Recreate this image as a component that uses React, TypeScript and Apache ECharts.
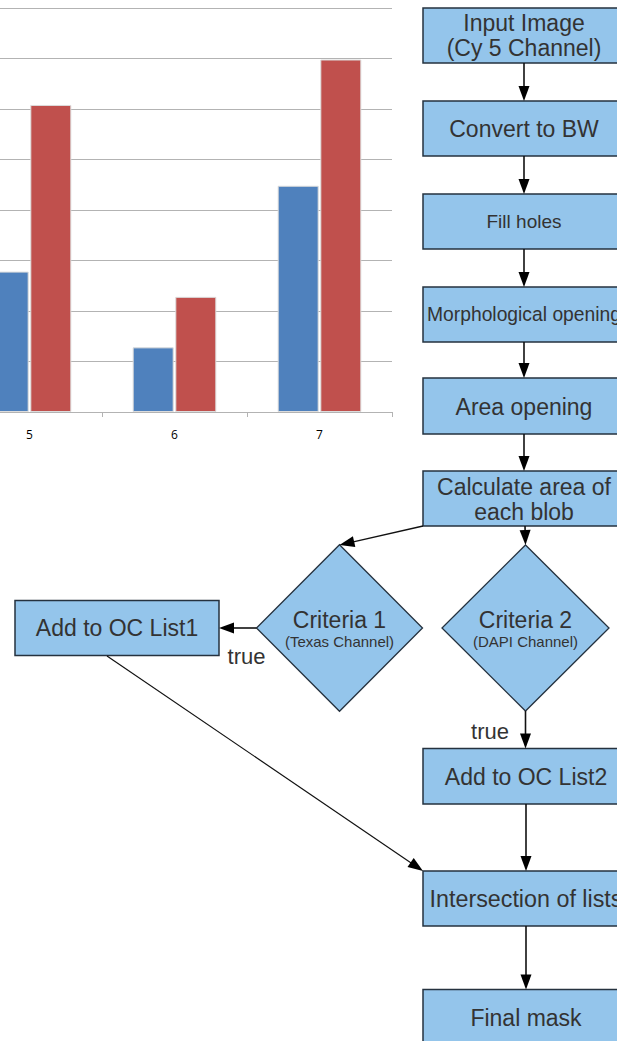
import React, { useEffect, useRef } from "react";
import * as echarts from "echarts";

// ---- Bar chart data ----
const categories = ["5", "6", "7"];
const seriesBlue = [2.78, 1.28, 4.48];
const seriesRed = [6.08, 2.28, 6.98];
const yMax = 8;
const yInterval = 1;

// The chart canvas starts 43px left of the page so that the partly hidden first category is cut like the reference.
const SHIFT = 43;

// ---- Flowchart content ----
const FONT = "Liberation Sans, Arial, sans-serif";
const TEXT_COLOR = "#333333";
const BOX_FILL = "#94c5eb";
const BOX_STROKE = "#25323f";

type Box = { x: number; y: number; w: number; h: number; lines: { t: string; y: number; size: number }[]; cx?: number };

const boxes: Box[] = [
  { x: 423, y: 8, w: 200, h: 55, lines: [{ t: "Input Image", y: 23, size: 23 }, { t: "(Cy 5 Channel)", y: 48, size: 23 }] },
  { x: 423, y: 101, w: 200, h: 55, lines: [{ t: "Convert to BW", y: 128.5, size: 23 }] },
  { x: 423, y: 194, w: 200, h: 55, lines: [{ t: "Fill holes", y: 221, size: 19 }] },
  { x: 423, y: 287, w: 200, h: 55, lines: [{ t: "Morphological opening", y: 314, size: 19.3 }] },
  { x: 423, y: 378, w: 200, h: 56, lines: [{ t: "Area opening", y: 406.5, size: 23 }] },
  { x: 423, y: 471, w: 200, h: 55, lines: [{ t: "Calculate area of", y: 486.5, size: 23 }, { t: "each blob", y: 512, size: 23 }] },
  { x: 423, y: 748.5, w: 200, h: 55.5, cx: 526, lines: [{ t: "Add to OC List2", y: 777, size: 23 }] },
  { x: 423, y: 871, w: 200, h: 55, cx: 526, lines: [{ t: "Intersection of lists", y: 899, size: 23.3 }] },
  { x: 423, y: 989.5, w: 200, h: 55, cx: 526, lines: [{ t: "Final mask", y: 1017.5, size: 23 }] },
  { x: 15, y: 600.5, w: 204, h: 55, cx: 117, lines: [{ t: "Add to OC List1", y: 628, size: 23 }] },
];

type Diamond = { cx: number; cy: number; hw: number; hh: number; title: string; sub: string };
const diamonds: Diamond[] = [
  { cx: 339.5, cy: 628, hw: 83, hh: 83.3, title: "Criteria 1", sub: "(Texas Channel)" },
  { cx: 525.5, cy: 628, hw: 83.5, hh: 83, title: "Criteria 2", sub: "(DAPI Channel)" },
];

const arrows: [number, number, number, number, number][] = [
  [524, 63, 524, 101, 1.6],
  [524, 156, 524, 194, 1.6],
  [524, 249, 524, 287, 1.6],
  [524, 342, 524, 378, 1.6],
  [524, 434, 524, 471, 1.6],
  [525, 526, 525.5, 545, 1.6],
  [423, 526, 339.5, 545, 1.3],
  [256.5, 628, 219, 628, 1.6],
  [525.5, 711, 525.5, 748.5, 1.6],
  [526, 804, 526, 871, 1.6],
  [526, 926, 526, 989.5, 1.6],
  [107, 656, 423, 871, 1.2],
];

const trueLabels = [
  { t: "true", x: 246.5, y: 656 },
  { t: "true", x: 490, y: 731 },
];

function textEl(t: string, x: number, y: number, size: number) {
  return {
    type: "text",
    x,
    y,
    z: 20,
    style: {
      text: t,
      font: `${size}px ${FONT}`,
      fill: TEXT_COLOR,
      align: "center",
      verticalAlign: "middle",
      textAlign: "center",
      textVerticalAlign: "middle",
    },
  };
}

function buildGraphics() {
  const els: any[] = [];
  boxes.forEach((b) => {
    els.push({
      type: "rect",
      z: 10,
      shape: { x: b.x, y: b.y, width: b.w, height: b.h },
      style: { fill: BOX_FILL, stroke: BOX_STROKE, lineWidth: 1.5 },
    });
    const cx = b.cx ?? b.x + b.w / 2 + 1;
    b.lines.forEach((l) => els.push(textEl(l.t, cx, l.y, l.size)));
  });
  diamonds.forEach((d) => {
    els.push({
      type: "polygon",
      z: 10,
      shape: {
        points: [
          [d.cx, d.cy - d.hh],
          [d.cx + d.hw, d.cy],
          [d.cx, d.cy + d.hh],
          [d.cx - d.hw, d.cy],
        ],
      },
      style: { fill: BOX_FILL, stroke: BOX_STROKE, lineWidth: 1.3 },
    });
    els.push(textEl(d.title, d.cx, d.cy - 8, 23));
    els.push(textEl(d.sub, d.cx, d.cy + 13.5, 15));
  });
  arrows.forEach(([x1, y1, x2, y2, lw]) => {
    const dx = x2 - x1;
    const dy = y2 - y1;
    const len = Math.sqrt(dx * dx + dy * dy);
    const ux = dx / len;
    const uy = dy / len;
    const L = 15;
    const W = 5.5;
    const bx = x2 - ux * L;
    const by = y2 - uy * L;
    els.push({
      type: "line",
      z: 15,
      shape: { x1, y1, x2: bx + ux * 2, y2: by + uy * 2 },
      style: { stroke: "#111111", lineWidth: lw },
    });
    els.push({
      type: "polygon",
      z: 15,
      shape: {
        points: [
          [x2, y2],
          [bx - uy * W, by + ux * W],
          [bx + uy * W, by - ux * W],
        ],
      },
      style: { fill: "#000000" },
    });
  });
  trueLabels.forEach((l) => els.push(textEl(l.t, l.x, l.y, 22)));
  return [{ type: "group", x: SHIFT, y: 0, children: els }];
}

export default function App() {
  const ref = useRef<HTMLDivElement>(null);
  useEffect(() => {
    if (!ref.current) return;
    const chart = echarts.init(ref.current, null, { renderer: "svg" });
    chart.setOption({
      animation: false,
      backgroundColor: "#ffffff",
      grid: { left: 0, right: 225, top: 8, bottom: 629, containLabel: false },
      xAxis: {
        type: "category",
        data: categories,
        axisLine: { show: true, lineStyle: { color: "#b3b3b3", width: 1 } },
        axisTick: { show: true, length: 5, lineStyle: { color: "#b3b3b3" } },
        axisLabel: { color: "#000000", fontSize: 12, fontFamily: "Open Sans, sans-serif", margin: 16 },
        splitLine: { show: false },
      },
      yAxis: {
        type: "value",
        min: 0,
        max: yMax,
        interval: yInterval,
        axisLabel: { show: false },
        axisLine: { show: false },
        axisTick: { show: false },
        splitLine: { show: true, lineStyle: { color: "#b3b3b3", width: 1 } },
      },
      series: [
        {
          type: "bar",
          data: seriesBlue,
          barWidth: 41,
          barGap: "4%",
          itemStyle: { color: "#4f81bd", borderColor: "#dcdcdc", borderWidth: 1 },
        },
        {
          type: "bar",
          data: seriesRed,
          barWidth: 41,
          barGap: "4%",
          itemStyle: { color: "#c0504d", borderColor: "#dcdcdc", borderWidth: 1 },
        },
      ],
      graphic: { elements: buildGraphics() },
    });
    return () => chart.dispose();
  }, []);
  return (
    <div style={{ position: "absolute", left: 0, top: 0, width: 617, height: 1041, overflow: "hidden" }}>
      <div
        ref={ref}
        style={{ position: "absolute", left: -SHIFT, top: 0, width: 617 + SHIFT, height: 1041 }}
      />
    </div>
  );
}
